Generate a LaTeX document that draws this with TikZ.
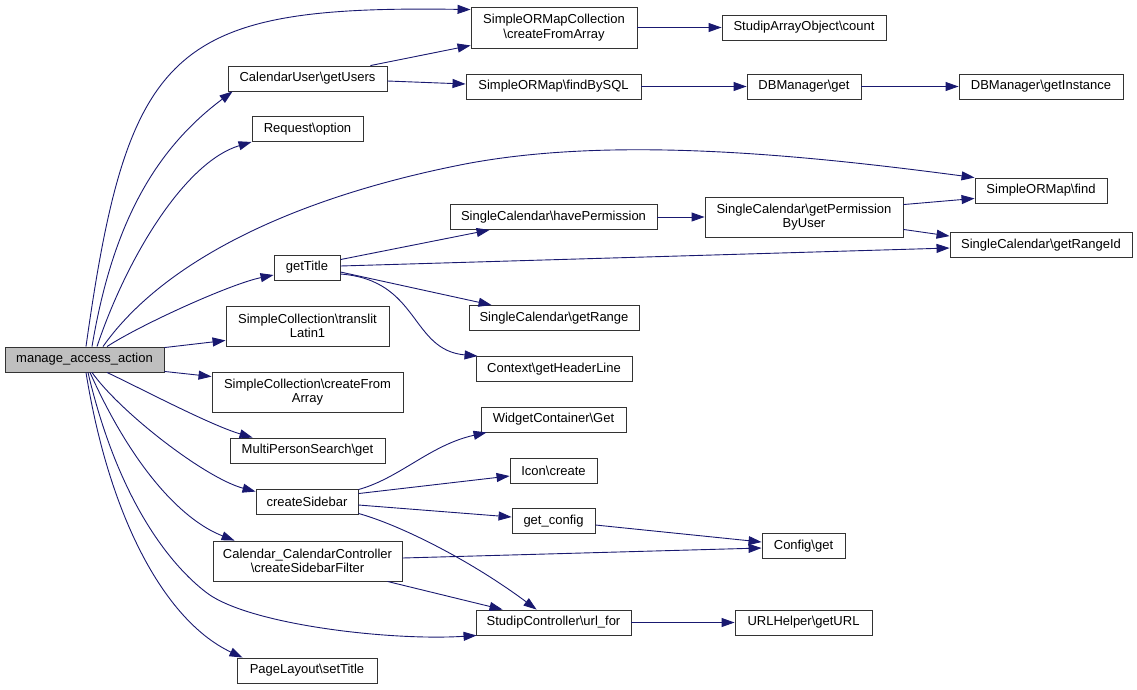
\documentclass[tikz,border=0pt]{standalone}
\usepackage{fontspec}
\setmainfont{Liberation Sans}
\usetikzlibrary{arrows.meta,calc}
\definecolor{edgeblue}{HTML}{191970}
\begin{document}
\begin{tikzpicture}[x=1pt,y=-1pt,
  box/.style={draw=black!80, line width=0.9pt, fill=white, inner sep=0pt, align=center,
    font=\fontsize{13}{14.5}\selectfont, minimum height=25pt},
  tall/.style={minimum height=40pt},
  edge/.style={draw=edgeblue, line width=0.9pt, -{Triangle[length=13pt,width=9pt]}}]
\useasboundingbox (0,0) rectangle (1137,689);
% nodes
\node[box, fill=black!25, minimum width=159pt] (manage) at (84.5,359.5) {manage\_access\_action};
\node[box, minimum width=159pt] (getUsers) at (307.5,78.5) {CalendarUser\textbackslash{}getUsers};
\node[box, minimum width=111pt] (request) at (307.5,129) {Request\textbackslash{}option};
\node[box, minimum width=66pt] (getTitle) at (307,267.5) {getTitle};
\node[box, tall, minimum width=163pt] (translit) at (307.5,326) {SimpleCollection\textbackslash{}translit\\Latin1};
\node[box, tall, minimum width=191pt] (cfa) at (307.5,392) {SimpleCollection\textbackslash{}createFrom\\Array};
\node[box, minimum width=155pt] (multi) at (307.5,450.5) {MultiPersonSearch\textbackslash{}get};
\node[box, minimum width=102pt] (sidebar) at (307,501.5) {createSidebar};
\node[box, tall, minimum width=189pt] (calctrl) at (307.5,561) {Calendar\_CalendarController\\\textbackslash{}createSidebarFilter};
\node[box, minimum width=140pt] (pagelayout) at (307,670.5) {PageLayout\textbackslash{}setTitle};
\node[box, tall, minimum width=166pt, minimum height=41pt] (sormc) at (554,27.5) {SimpleORMapCollection\\\textbackslash{}createFromArray};
\node[box, minimum width=164pt] (sao) at (804,27.5) {StudipArrayObject\textbackslash{}count};
\node[box, minimum width=175pt] (findbysql) at (553.5,86.5) {SimpleORMap\textbackslash{}findBySQL};
\node[box, minimum width=114pt] (dbget) at (804,86.5) {DBManager\textbackslash{}get};
\node[box, minimum width=164pt] (getinstance) at (1041,86.5) {DBManager\textbackslash{}getInstance};
\node[box, minimum width=207pt] (haveperm) at (553.5,217) {SingleCalendar\textbackslash{}havePermission};
\node[box, tall, minimum width=198pt] (getperm) at (804,217) {SingleCalendar\textbackslash{}getPermission\\ByUser};
\node[box, minimum width=132pt] (find) at (1041,190.5) {SimpleORMap\textbackslash{}find};
\node[box, minimum width=182pt] (rangeid) at (1041,245) {SingleCalendar\textbackslash{}getRangeId};
\node[box, minimum width=170pt] (getrange) at (554,318) {SingleCalendar\textbackslash{}getRange};
\node[box, minimum width=156pt] (context) at (554,369) {Context\textbackslash{}getHeaderLine};
\node[box, minimum width=145pt] (widget) at (553.5,419.5) {WidgetContainer\textbackslash{}Get};
\node[box, minimum width=87pt] (icon) at (553.5,470.5) {Icon\textbackslash{}create};
\node[box, minimum width=83pt] (getconfig) at (553.5,521) {get\_config};
\node[box, minimum width=83pt] (configget) at (803.5,546) {Config\textbackslash{}get};
\node[box, minimum width=155pt] (urlfor) at (553.5,622.5) {StudipController\textbackslash{}url\_for};
\node[box, minimum width=137pt] (urlhelper) at (803.5,622.5) {URLHelper\textbackslash{}getURL};
% edges from manage
\draw[edge] ($(manage.north)+(1.5,0)$) .. controls (128,47) and (171,5) .. ($(sormc.north west)+(0,3)$);
\draw[edge] ($(manage.north)+(7.5,0)$) .. controls (112,227) and (153,151) .. ($(getUsers.south west)+(5,0)$);
\draw[edge] ($(manage.north)+(12.5,0)$) .. controls (127,257) and (185,162) .. (request.south west);
\draw[edge] ($(manage.north)+(18.5,0)$) .. controls (159,267) and (280,201) .. (460,165) .. controls (610,135) and (804,155) .. (find.north west);
\draw[edge] ($(manage.north)+(22.5,0)$) .. controls (140,325) and (230,284) .. ($(getTitle.west)+(0,7.5)$);
\draw[edge] ($(manage.north east)+(0,1)$) -- ($(translit.south west)+(0,-6)$);
\draw[edge] ($(manage.south east)+(0,-1)$) -- ($(cfa.north west)+(0,5)$);
\draw[edge] ($(manage.south)+(22.5,0)$) .. controls (140,388) and (210,425) .. ($(multi.north west)+(23,0)$);
\draw[edge] ($(manage.south)+(7.5,0)$) .. controls (120,412) and (205,478) .. ($(sidebar.north west)+(0,3)$);
\draw[edge] ($(manage.south)+(5.5,0)$) .. controls (130,462) and (179,519) .. ($(calctrl.north west)+(22,0)$);
\draw[edge] ($(manage.south)+(3.5,0)$) .. controls (118,500) and (170,565) .. (207,593) .. controls (250,625) and (392,641) .. ($(urlfor.south west)+(1,0)$);
\draw[edge] ($(manage.south)+(1.5,0)$) .. controls (110,522) and (167,622) .. ($(pagelayout.north west)+(6,0)$);
% other edges
\draw[edge] ($(getUsers.north east)+(-17,0)$) -- ($(sormc.south west)+(0,-3)$);
\draw[edge] ($(getUsers.east)+(0,2.5)$) -- ($(findbysql.west)+(0,-2.5)$);
\draw[edge] (sormc.east) -- (sao.west);
\draw[edge] (findbysql.east) -- (dbget.west);
\draw[edge] (dbget.east) -- (getinstance.west);
\draw[edge] ($(getTitle.north east)+(0,5)$) -- ($(haveperm.south west)+(40,0)$);
\draw[edge] ($(getTitle.east)+(0,-1.5)$) -- ($(rangeid.west)+(0,3)$);
\draw[edge] ($(getTitle.east)+(0,4.5)$) -- ($(getrange.north west)+(23,0)$);
\draw[edge] ($(getTitle.east)+(0,6.5)$) .. controls (420,280) and (410,350) .. ($(context.north west)+(2,0)$);
\draw[edge] (haveperm.east) -- (getperm.west);
\draw[edge] ($(getperm.north east)+(0,8)$) -- ($(find.south west)+(0,-5)$);
\draw[edge] ($(getperm.south east)+(0,-8)$) -- ($(rangeid.north west)+(0,4)$);
\draw[edge] ($(sidebar.north east)+(0,1)$) .. controls (400,478) and (430,445) .. ($(widget.south west)+(6,0)$);
\draw[edge] ($(sidebar.north east)+(0,5)$) -- ($(icon.west)+(0,5.5)$);
\draw[edge] ($(sidebar.east)+(0,3.5)$) -- ($(getconfig.west)+(0,-4)$);
\draw[edge] ($(sidebar.south east)+(0,-1)$) .. controls (400,525) and (470,560) .. ($(urlfor.north west)+(61,0)$);
\draw[edge] ($(getconfig.east)+(0,4)$) -- ($(configget.west)+(0,-4)$);
\draw[edge] ($(calctrl.east)+(0,-3)$) -- ($(configget.west)+(0,2)$);
\draw[edge] ($(calctrl.south east)+(-15,0)$) -- ($(urlfor.north west)+(27,0)$);
\draw[edge] (urlfor.east) -- (urlhelper.west);
\end{tikzpicture}
\end{document}
